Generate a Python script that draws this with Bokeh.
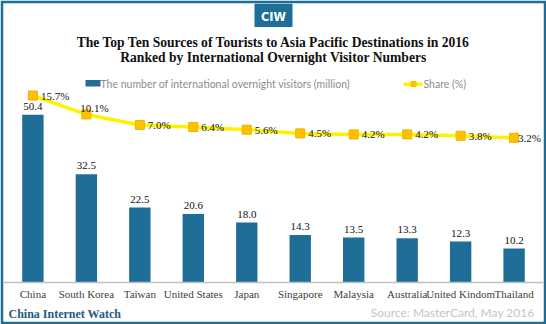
from bokeh.plotting import figure
from bokeh.models import ColumnDataSource, FactorRange, Range1d, LabelSet, Label, BoxAnnotation
from bokeh.core.properties import value
from bokeh.embed import file_html
from bokeh.resources import INLINE

countries = ["China", "South Korea", "Taiwan", "United States", "Japan",
             "Singapore", "Malaysia", "Australia", "United Kindom", "Thailand"]
visitors = [50.4, 32.5, 22.5, 20.6, 18.0, 14.3, 13.5, 13.3, 12.3, 10.2]
share = [15.7, 10.1, 7.0, 6.4, 5.6, 4.5, 4.2, 4.2, 3.8, 3.2]

title1 = "The Top Ten Sources of Tourists to Asia Pacific Destinations in 2016"
title2 = "Ranked by International Overnight Visitor Numbers"
legend_bar = "The number of international overnight visitors (million)"
legend_line = "Share (%)"
brand = "China Internet Watch"
source_note = "Source: MasterCard, May 2016"

W, H = 546, 324
B = 3                      # blue outer frame thickness
FL, FR, FT, FB = B, W - B, B, H - B   # plot frame edges in page px
AXIS_Y = 282               # page y of the value axis zero
BLUE = "#1F6E98"

n = len(countries)
src = ColumnDataSource(dict(
    country=countries,
    visitors=visitors,
    share=share,
    vis_text=["%.1f" % v for v in visitors],
    share_text=["%.1f%%" % s for s in share],
    xoff=[-6 if i == 1 else (4 if i == n - 1 else 8) for i in range(n)],
    yoff=[6 if i == 1 else 0 for i in range(n)],
))

p = figure(width=W, height=H, output_backend="svg", toolbar_location=None,
           x_range=FactorRange(factors=countries, range_padding=0.01,
                               range_padding_units="percent"),
           y_range=Range1d(-(FB - AXIS_Y) / 3.33, (AXIS_Y - FT) / 3.33),
           y_axis_location=None,
           min_border_left=FL, min_border_right=W - FR,
           min_border_top=FT, min_border_bottom=H - FB)
p.extra_y_ranges = {"share": Range1d(-(FB - 148.1) / 3.38, (148.1 - FT) / 3.38)}
p.xgrid.visible = False
p.ygrid.visible = False
p.outline_line_color = None
p.background_fill_color = "white"
p.border_fill_color = BLUE

ax = p.xaxis[0]
ax.fixed_location = 0
ax.axis_line_color = "#C0C0C0"
ax.axis_line_width = 1.5
ax.major_tick_line_color = None
ax.minor_tick_line_color = None
ax.major_tick_out = 0
ax.major_tick_in = 0
ax.major_label_standoff = 5
ax.major_label_text_font = "Liberation Serif"
ax.major_label_text_font_size = "11px"
ax.major_label_text_color = "#404040"

p.vbar(x="country", top="visitors", width=0.4, source=src,
       fill_color=BLUE, line_color=None)
p.line(x="country", y="share", source=src, y_range_name="share",
       line_color="#FFF200", line_width=3.5)
p.scatter(x="country", y="share", source=src, y_range_name="share",
          marker="square", size=9, fill_color="#FFC000", line_color="#EDB200")

p.add_layout(LabelSet(x="country", y="visitors", text="vis_text", source=src,
                      y_offset=5, text_align="center", text_baseline="bottom",
                      text_font=value("Liberation Serif"), text_font_size=value("11px"),
                      text_color="#111111"))
p.add_layout(LabelSet(x="country", y="share", text="share_text", source=src,
                      y_range_name="share", x_offset="xoff", y_offset="yoff",
                      text_align="left", text_baseline="middle",
                      text_font=value("Liberation Serif"), text_font_size=value("11px"),
                      text_color="#111111"))


def sx(x):
    return x - FL


def sy(y):
    return FB - y


def box(l, r, t, b, **kw):
    p.add_layout(BoxAnnotation(left=sx(l), right=sx(r), top=sy(t), bottom=sy(b),
                               left_units="screen", right_units="screen",
                               top_units="screen", bottom_units="screen", **kw))


def label(x, y, text, **kw):
    p.add_layout(Label(x=sx(x), y=sy(y), x_units="screen", y_units="screen",
                       text=text, text_baseline="middle", **kw))


# logo
box(254, 292, 3, 26.5, fill_color=BLUE, fill_alpha=1, line_color=None)
label(273, 15.5, "CIW", text_align="center", text_font="DejaVu Sans Condensed",
      text_font_style="bold", text_font_size="12.5px", text_color="white")
# titles
label(273, 42, title1, text_align="center", text_font="Liberation Serif",
      text_font_style="bold", text_font_size="13.6px", text_color="#111111")
label(273, 57, title2, text_align="center", text_font="Liberation Serif",
      text_font_style="bold", text_font_size="13.6px", text_color="#111111")
# legend
box(85, 100, 79.5, 86, fill_color=BLUE, fill_alpha=1, line_color=None)
label(100, 83, legend_bar, text_font="Lato", text_font_size="10.5px", text_color="#8C8C8C")
box(403, 422, 82, 85.5, fill_color="#FFF200", fill_alpha=1, line_color=None)
box(410, 416, 80.5, 86.5, fill_color="#FFC000", fill_alpha=1, line_color=None)
label(423, 83, legend_line, text_font="Lato", text_font_size="10.5px", text_color="#8C8C8C")
# footer
label(8, 313, brand, text_font="Liberation Serif", text_font_style="bold",
      text_font_size="12px", text_color="#1F5A7E")
label(534, 312, source_note, text_align="right", text_font="Lato",
      text_font_size="12px", text_color="#C4C4C4")

open("out.html", "w").write(file_html(p, INLINE))
